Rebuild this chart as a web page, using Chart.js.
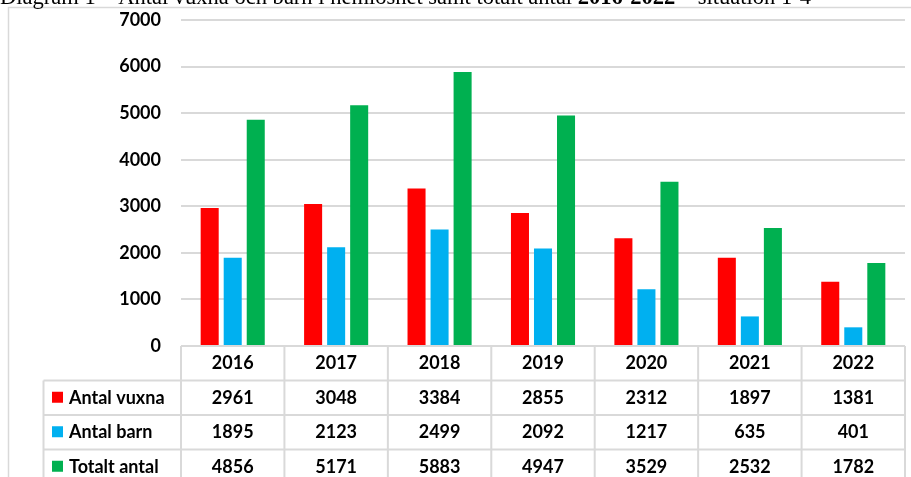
<!DOCTYPE html>
<html>
<head>
<meta charset="utf-8">
<script src="https://cdn.jsdelivr.net/npm/chart.js@4"></script>
<style>
html,body{margin:0;padding:0;background:#fff;}
canvas{display:block;}
</style>
</head>
<body>
<canvas id="c" width="911" height="477"></canvas>
<script>
const years = ['2016','2017','2018','2019','2020','2021','2022'];
const vuxna = [2961,3048,3384,2855,2312,1897,1381];
const barn = [1895,2123,2499,2092,1217,635,401];
const totalt = [4856,5171,5883,4947,3529,2532,1782];
const seriesNames = ['Antal vuxna','Antal barn','Totalt antal'];
const seriesColors = ['#ff0000','#00b0f0','#00b050'];
const yMax = 7000;
const yStep = 1000;
const titleParts = ['Diagram 1 \u2013 Antal vuxna och barn i hemlöshet samt totalt antal ', '2016-2022', ' \u2013 situation 1-4'];

const FONT = 'Lato, "Open Sans", sans-serif';
const GRID = '#d9d9d9';

const framePlugin = {
  id: 'frame',
  beforeDraw(chart) {
    const ctx = chart.ctx;
    ctx.save();
    ctx.fillStyle = '#fff';
    ctx.fillRect(0, 0, chart.width, chart.height);
    ctx.strokeStyle = GRID;
    ctx.lineWidth = 1.5;
    ctx.beginPath();
    ctx.moveTo(8.5, chart.height);
    ctx.lineTo(8.5, 7.5);
    ctx.lineTo(chart.width, 7.5);
    ctx.stroke();
    let size = 16;
    ctx.font = size + 'px "Liberation Serif", "DejaVu Serif", serif';
    const w = ctx.measureText(titleParts[0]).width;
    size = size * 578 / w;
    let x = 0;
    const base = 3.5;
    ctx.fillStyle = '#000';
    ctx.textBaseline = 'alphabetic';
    ctx.textAlign = 'left';
    ctx.font = size + 'px "Liberation Serif", serif';
    ctx.fillText(titleParts[0], x, base);
    x += ctx.measureText(titleParts[0]).width;
    ctx.font = 'bold ' + size + 'px "Liberation Serif", serif';
    ctx.fillText(titleParts[1], x, base);
    x += ctx.measureText(titleParts[1]).width;
    ctx.font = size + 'px "Liberation Serif", serif';
    ctx.fillText(titleParts[2], x, base);
    ctx.restore();
  }
};

const tablePlugin = {
  id: 'table',
  afterDraw(chart) {
    const ctx = chart.ctx;
    const xs = chart.scales.x;
    const area = chart.chartArea;
    const n = years.length;
    const left = area.left, right = area.right;
    const cw = (right - left) / n;
    const top = area.bottom;
    const rowH = 34.5;
    const legendLeft = 43.5;
    const H = chart.height + 10;
    ctx.save();
    ctx.strokeStyle = GRID;
    ctx.lineWidth = 2;
    ctx.beginPath();
    ctx.moveTo(left, top); ctx.lineTo(right, top);
    for (let r = 1; r <= 3; r++) {
      const y = top + r * rowH;
      ctx.moveTo(legendLeft, y); ctx.lineTo(right, y);
    }
    for (let i = 0; i <= n; i++) {
      const x = left + i * cw;
      ctx.moveTo(x, top); ctx.lineTo(x, H);
    }
    ctx.moveTo(legendLeft, top + rowH); ctx.lineTo(legendLeft, H);
    ctx.stroke();

    ctx.fillStyle = '#000';
    ctx.font = 'bold 18px ' + FONT;
    ctx.textAlign = 'center';
    ctx.textBaseline = 'middle';
    for (let i = 0; i < n; i++) {
      const cx = xs.getPixelForValue(i);
      ctx.fillText(years[i], cx, top + rowH / 2);
    }
    const rows = [vuxna, barn, totalt];
    rows.forEach((arr, r) => {
      const cy = top + (r + 1) * rowH + rowH / 2;
      for (let i = 0; i < n; i++) {
        const cx = xs.getPixelForValue(i);
        ctx.fillStyle = '#000';
        ctx.textAlign = 'center';
        ctx.fillText(String(arr[i]), cx, cy);
      }
      ctx.fillStyle = seriesColors[r];
      ctx.fillRect(52, cy - 6, 11, 11);
      ctx.fillStyle = '#000';
      ctx.textAlign = 'left';
      ctx.fillText(seriesNames[r], 69, cy);
    });
    ctx.restore();
  }
};

new Chart(document.getElementById('c'), {
  type: 'bar',
  data: {
    labels: years,
    datasets: [
      { label: seriesNames[0], data: vuxna, backgroundColor: seriesColors[0] },
      { label: seriesNames[1], data: barn, backgroundColor: seriesColors[1] },
      { label: seriesNames[2], data: totalt, backgroundColor: seriesColors[2] }
    ]
  },
  options: {
    responsive: false,
    animation: false,
    devicePixelRatio: 1,
    layout: { padding: { left: 0, right: 6, top: 20, bottom: 0 } },
    datasets: { bar: { barPercentage: 0.783, categoryPercentage: 0.668, borderWidth: 0 } },
    plugins: { legend: { display: false }, tooltip: { enabled: false }, title: { display: false } },
    scales: {
      x: {
        grid: { display: false, drawTicks: false },
        border: { display: false },
        ticks: { display: false },
        afterFit(s) { s.height = 131; s.paddingLeft = 0; s.paddingRight = 0; }
      },
      y: {
        min: 0, max: yMax,
        ticks: { stepSize: yStep, color: '#000', font: { family: FONT, size: 18, weight: 'bold' }, padding: 20,
                 callback: (v) => String(v) },
        grid: { color: GRID, lineWidth: 2, drawTicks: false },
        border: { display: false },
        afterFit(s) { s.width = 181; s.paddingTop = 0; s.paddingBottom = 0; }
      }
    }
  },
  plugins: [framePlugin, tablePlugin]
});
</script>
</body>
</html>
